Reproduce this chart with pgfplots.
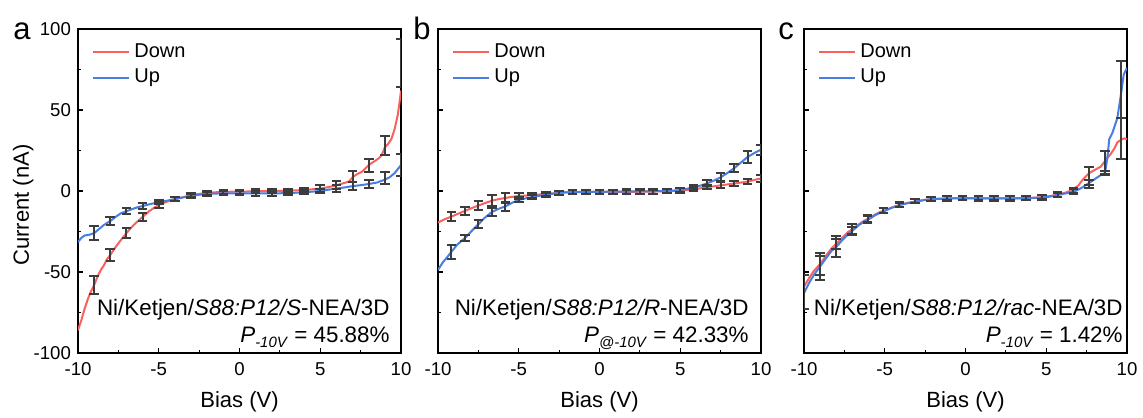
\documentclass[border=0pt]{standalone}
\usepackage{pgfplots}
\pgfplotsset{compat=1.18}
\usepackage{fontspec}
\setmainfont{Liberation Sans}

\definecolor{downc}{RGB}{250,96,92}
\definecolor{upc}{RGB}{72,126,226}
\definecolor{errc}{RGB}{60,60,60}

\newcommand{\annfont}{\fontsize{11.2}{13}\selectfont}
\tikzset{ann/.style={anchor=base east, inner sep=0pt, font=\annfont}}

\pgfplotsset{
  ivpanel/.style={
    scale only axis, width=161.5pt, height=162pt,
    xmin=-10, xmax=10, ymin=-100, ymax=100,
    xtick={-10,-5,0,5,10}, xticklabels={-10,-5,0,5,10},
    ytick={-100,-50,0,50,100},
    minor x tick num=1, minor y tick num=1,
    tick align=inside, xtick pos=bottom, ytick pos=left,
    major tick length=2.5pt, minor tick length=1.6pt,
    axis line style={line width=0.8pt},
    every tick/.style={line width=0.6pt, black},
    ticklabel style={font=\fontsize{9.3}{11}\selectfont},
    xticklabel style={yshift=-1.3pt},
    xlabel={Bias (V)},
    xlabel style={font=\fontsize{11}{13}\selectfont, at={(axis description cs:0.5,-0.151)}, anchor=center},
    legend style={at={(axis description cs:0,1)}, anchor=north west,
      xshift=4pt, yshift=-3pt, draw=none, fill=none,
      font=\fontsize{10}{12}\selectfont, row sep=0.5pt},
    legend cell align=left,
    legend image code/.code={\draw[#1] (0pt,0pt) -- (18pt,0pt);},
  },
  dn/.style={downc, line width=1pt},
  upl/.style={upc, line width=1pt},
  errb/.style={forget plot, only marks, mark=text, text mark={},
    error bars/y dir=both, error bars/y explicit,
    error bars/error mark=-,
    error bars/error bar style={line width=1pt, errc},
    error bars/error mark options={rotate=90, mark size=2.4pt, line width=1pt, errc}},
}

\begin{document}
\begin{tikzpicture}
\path[use as bounding box] (-39pt,-32pt) rectangle (532.5pt,176.5pt);

% ---------------- panel a ----------------
\begin{axis}[ivpanel, at={(0pt,0pt)},
  ylabel={Current (nA)},
  ylabel style={font=\fontsize{11}{13}\selectfont, at={(axis description cs:-0.17,0.457)}, anchor=center},
  yticklabels={-100,-50,0,50,100}]
\addplot[dn] coordinates {
 (-10,-86) (-9.8,-80) (-9.6,-73) (-9.4,-67) (-9.2,-62) (-9,-58) (-8.8,-53)
 (-8.6,-49) (-8.4,-46) (-8.2,-42) (-8,-39.5) (-7.7,-35) (-7.4,-31) (-7,-26)
 (-6.7,-22.5) (-6.4,-19.5) (-6,-16) (-5.6,-12.5) (-5.3,-10.5) (-5,-8.5)
 (-4.6,-7) (-4.2,-5.5) (-4,-5) (-3.5,-3.8) (-3,-2.6) (-2.5,-1.8) (-2,-1.2)
 (-1.5,-0.8) (-1,-0.5) (0,-0.4) (1,-0.2) (2,0) (3,0.2) (4,0.6) (5,1.5)
 (5.5,2.4) (6,3.5) (6.5,5) (6.8,6) (7,8.5) (7.3,10.5) (7.6,12) (8,16)
 (8.3,18) (8.6,20) (8.8,22) (9,27) (9.2,29) (9.4,32) (9.6,38) (9.8,47)
 (9.9,54) (10,62)};
\addlegendentry{Down}
\addplot[upl] coordinates {
 (-10,-31.5) (-9.8,-29) (-9.6,-27.5) (-9.3,-27) (-9,-26) (-8.7,-23.5)
 (-8.4,-21) (-8,-18.5) (-7.6,-15.5) (-7.3,-13.5) (-7,-12.5) (-6.6,-11)
 (-6.3,-10) (-6,-9.3) (-5.5,-8) (-5,-7) (-4.5,-6) (-4,-5) (-3.5,-4)
 (-3,-3) (-2.5,-2.3) (-2,-1.8) (-1,-1.4) (0,-1.4) (1,-1.5) (2,-1.5)
 (3,-1.3) (4,-0.8) (5,0) (5.5,0.8) (6,1.5) (6.5,2.2) (7,3) (7.5,3.6)
 (8,4.3) (8.5,5.2) (9,7) (9.3,8.5) (9.6,11) (9.8,13.5) (10,16)};
\addlegendentry{Up}
\addplot[errb] coordinates {
 (-9,-58) +- (0,5.5) (-8,-39.5) +- (0,4) (-7,-26) +- (0,3) (-6,-16) +- (0,2.5)
 (-5,-8.5) +- (0,2) (-4,-5) +- (0,1.3) (-3,-2.6) +- (0,1.3) (-2,-1.2) +- (0,1.3)
 (-1,-0.5) +- (0,1.3) (0,-0.4) +- (0,1.3) (1,-0.2) +- (0,1.3) (2,0) +- (0,1.3)
 (3,0.2) +- (0,1.3) (4,0.6) +- (0,1.3) (5,1.5) +- (0,2) (6,3.5) +- (0,2.5)
 (7,9) +- (0,3.5) (8,16) +- (0,4) (9,28) +- (0,6) (10,79) +- (0,15)};
\addplot[errb] coordinates {
 (-9,-26) +- (0,4.5) (-8,-18.5) +- (0,2.5) (-7,-12.5) +- (0,1.8) (-6,-9.3) +- (0,1.8)
 (-5,-7) +- (0,1.3) (-4,-5) +- (0,1.3) (-3,-3) +- (0,1.3) (-2,-1.8) +- (0,1.3)
 (-1,-1.4) +- (0,1.3) (0,-1.4) +- (0,1.3) (1,-1.5) +- (0,1.3) (2,-1.5) +- (0,1.3)
 (3,-1.3) +- (0,1.3) (4,-0.8) +- (0,1.3) (5,0) +- (0,1.5) (6,1.5) +- (0,2)
 (7,3) +- (0,2.5) (8,4.5) +- (0,2.5) (9,8) +- (0,3.5) (10,16) +- (0,7)};
\node[ann] at ([xshift=-5.5pt, yshift=19pt]rel axis cs:1,0)
  {Ni/Ketjen/\textit{S88:P12/S}-NEA/3D};
\node[ann] at ([xshift=-5.5pt, yshift=5.5pt]rel axis cs:1,0)
  {\textit{P}\raisebox{-0.45ex}{\fontsize{7.5}{8}\selectfont\textit{-10V}} = 45.88\%};
\end{axis}

% ---------------- panel b ----------------
\begin{axis}[ivpanel, at={(180pt,0pt)}, yticklabels={}]
\addplot[dn] coordinates {
 (-10,-19.5) (-9.6,-17.5) (-9.17,-15.8) (-8.75,-14) (-8.33,-12.3) (-7.9,-10.5)
 (-7.5,-9) (-7.1,-7.5) (-6.67,-6) (-6.25,-5) (-5.83,-4.3) (-5.4,-3.6)
 (-5,-3.1) (-4.17,-2.6) (-3.33,-1.8) (-2.5,-1.1) (-1.67,-0.7) (-0.83,-0.6)
 (0,-0.5) (1,-0.5) (2,-0.5) (3,-0.4) (4,-0.2) (5,0.3) (5.83,1) (6.67,2.3)
 (7.5,3.5) (8.33,4.6) (9.17,5.8) (10,7.8)};
\addlegendentry{Down}
\addplot[upl] coordinates {
 (-10,-48.7) (-9.7,-44) (-9.4,-40.5) (-9.17,-37.5) (-8.8,-33) (-8.33,-29)
 (-7.9,-24.5) (-7.5,-20.5) (-7.1,-16.5) (-6.67,-13) (-6.25,-11) (-5.83,-9.5)
 (-5.4,-7.2) (-5,-5.5) (-4.6,-4.6) (-4.17,-3.8) (-3.75,-3) (-3.33,-2.5)
 (-2.9,-1.7) (-2.5,-1.1) (-1.67,-0.6) (-0.83,-0.5) (0,-0.5) (1,-0.4)
 (2,-0.3) (3,-0.3) (4,0) (5,0.5) (5.83,2.3) (6.25,3.3) (6.67,4.7) (7.1,6.5)
 (7.5,8.4) (7.9,11) (8.33,14) (8.75,17.5) (9.17,21) (9.6,23.5) (10,25.5)};
\addlegendentry{Up}
\addplot[errb] coordinates {
 (-9.17,-15.8) +- (0,3) (-8.33,-12.3) +- (0,2.5) (-7.5,-9) +- (0,2.7)
 (-6.67,-6) +- (0,3.5) (-5.83,-4.3) +- (0,3) (-5,-3.1) +- (0,2)
 (-4.17,-2.6) +- (0,1.5) (-3.33,-1.8) +- (0,1.3) (-2.5,-1.1) +- (0,1.3)
 (-1.67,-0.7) +- (0,1.3) (-0.83,-0.6) +- (0,1.3) (0,-0.5) +- (0,1.3)
 (0.83,-0.5) +- (0,1.3) (1.67,-0.5) +- (0,1.3) (2.5,-0.5) +- (0,1.3)
 (3.33,-0.4) +- (0,1.3) (4.17,-0.2) +- (0,1.3) (5,0.3) +- (0,1.3)
 (5.83,1) +- (0,1.3) (6.67,2.3) +- (0,1.3) (7.5,3.5) +- (0,1.8)
 (8.33,4.6) +- (0,1.8) (9.17,5.8) +- (0,1.5) (10,7.8) +- (0,2)};
\addplot[errb] coordinates {
 (-9.17,-37.5) +- (0,4.4) (-8.33,-29) +- (0,2) (-7.5,-20.5) +- (0,2.5)
 (-6.67,-13) +- (0,2.5) (-5.83,-9.5) +- (0,2.7) (-5,-5.5) +- (0,1.5)
 (-4.17,-3.8) +- (0,1.3) (-3.33,-2.5) +- (0,1.3) (-2.5,-1.1) +- (0,1.3)
 (-1.67,-0.6) +- (0,1.3) (-0.83,-0.5) +- (0,1.3) (0,-0.5) +- (0,1.3)
 (0.83,-0.4) +- (0,1.3) (1.67,-0.3) +- (0,1.3) (2.5,-0.3) +- (0,1.3)
 (3.33,-0.3) +- (0,1.3) (4.17,0) +- (0,1.3) (5,0.5) +- (0,1.3)
 (5.83,2.3) +- (0,1.3) (6.67,4.7) +- (0,1.8) (7.5,8.4) +- (0,2.5)
 (8.33,14) +- (0,2.5) (9.17,21) +- (0,3.5) (10,25.5) +- (0,3)};
\node[ann] at ([xshift=-6pt, yshift=19pt]rel axis cs:1,0)
  {Ni/Ketjen/\textit{S88:P12/R}-NEA/3D};
\node[ann] at ([xshift=-6pt, yshift=5.5pt]rel axis cs:1,0)
  {\textit{P}\raisebox{-0.45ex}{\fontsize{7.5}{8}\selectfont\textit{@-10V}} = 42.33\%};
\end{axis}

% ---------------- panel c ----------------
\begin{axis}[ivpanel, at={(363pt,0pt)}, yticklabels={}]
\addplot[dn] coordinates {
 (-10,-59) (-9.7,-54) (-9.4,-49.5) (-9,-45) (-8.6,-39.5) (-8.3,-35.5)
 (-8,-32.5) (-7.6,-28.5) (-7.3,-25.5) (-7,-23.5) (-6.6,-20.5) (-6.3,-18.5)
 (-6,-17) (-5.6,-14.5) (-5.3,-13) (-5,-12) (-4.6,-10.3) (-4.3,-9.3)
 (-4,-8.3) (-3.5,-7.2) (-3,-6.3) (-2.5,-5.4) (-2,-4.9) (-1,-4.5) (0,-4.4)
 (1,-4.5) (2,-4.5) (3,-4.5) (4,-4.3) (4.7,-3.8) (5.2,-3.2) (5.7,-2.2)
 (6.2,-1) (6.62,0.6) (7,3.5) (7.24,6.8) (7.65,11) (8,13) (8.37,15)
 (8.68,19) (9,23) (9.2,26) (9.4,30) (9.62,31.5) (9.8,32.5) (10,32)};
\addlegendentry{Down}
\addplot[upl] coordinates {
 (-10,-63) (-9.7,-57) (-9.4,-52) (-9,-46.5) (-8.6,-41) (-8.3,-37) (-8,-34.5)
 (-7.6,-30) (-7.3,-27) (-7,-24.5) (-6.6,-21) (-6.3,-19) (-6,-17.5)
 (-5.6,-15) (-5.3,-13.5) (-5,-12.3) (-4.6,-10.5) (-4.3,-9.5) (-4,-8.5)
 (-3.5,-7.3) (-3,-6.4) (-2.5,-5.5) (-2,-5) (-1,-4.6) (0,-4.5) (1,-4.6)
 (2,-4.6) (3,-4.6) (4,-4.4) (4.7,-4) (5.2,-3.5) (5.7,-2.5) (6.2,-1.5)
 (6.7,-0.5) (7.2,2) (7.66,5) (8.1,8) (8.4,10) (8.64,11) (8.8,22) (8.9,32)
 (9.1,36) (9.4,45) (9.6,58) (9.8,72) (10,76)};
\addlegendentry{Up}
\addplot[errb] coordinates {
 (-9,-45) +- (0,7) (-8.02,-32.5) +- (0,3) (-7.04,-23.5) +- (0,3)
 (-6.06,-17) +- (0,2) (-5.08,-12) +- (0,1.5) (-4.1,-8.3) +- (0,1.3)
 (-3.12,-6.3) +- (0,1.3) (-2.14,-5) +- (0,1.3) (-1.16,-4.5) +- (0,1.3)
 (-0.18,-4.4) +- (0,1.3) (0.8,-4.5) +- (0,1.3) (1.78,-4.5) +- (0,1.3)
 (2.76,-4.5) +- (0,1.3) (3.74,-4.3) +- (0,1.3) (4.72,-3.8) +- (0,1.3)
 (5.7,-2.2) +- (0,1.3) (6.68,0.5) +- (0,1.5) (7.66,8.2) +- (0,6.6)
 (8.64,17.8) +- (0,7) (9.62,32.6) +- (0,12.6)};
\addplot[errb] coordinates {
 (-10,-62.5) +- (0,10.5)
 (-9,-47.5) +- (0,7.5) (-8.02,-34.4) +- (0,6.6) (-7.04,-24.5) +- (0,2.5)
 (-6.06,-17.5) +- (0,2.3) (-5.08,-12.3) +- (0,1.5) (-4.1,-8.5) +- (0,1.3)
 (-3.12,-6.4) +- (0,1.3) (-2.14,-5) +- (0,1.3) (-1.16,-4.6) +- (0,1.3)
 (-0.18,-4.5) +- (0,1.3) (0.8,-4.6) +- (0,1.3) (1.78,-4.6) +- (0,1.3)
 (2.76,-4.6) +- (0,1.3) (3.74,-4.4) +- (0,1.3) (4.72,-4) +- (0,1.3)
 (5.7,-2.5) +- (0,1.3) (6.68,-0.5) +- (0,1.5) (7.66,5.5) +- (0,1.5)
 (8.64,11) +- (0,1.3) (9.62,50) +- (0,30)};
\node[ann] at ([xshift=-2pt, yshift=19pt]rel axis cs:1,0)
  {Ni/Ketjen/\textit{S88:P12/rac}-NEA/3D};
\node[ann] at ([xshift=-2pt, yshift=5.5pt]rel axis cs:1,0)
  {\textit{P}\raisebox{-0.45ex}{\fontsize{7.5}{8}\selectfont\textit{-10V}} = 1.42\%};
\end{axis}

\node[anchor=base west, inner sep=0pt, font=\fontsize{15.5}{17}\selectfont] at (-32.5pt,156.5pt) {a};
\node[anchor=base west, inner sep=0pt, font=\fontsize{15.5}{17}\selectfont] at (167.5pt,156.5pt) {b};
\node[anchor=base west, inner sep=0pt, font=\fontsize{15.5}{17}\selectfont] at (350pt,156.5pt) {c};
\end{tikzpicture}
\end{document}
